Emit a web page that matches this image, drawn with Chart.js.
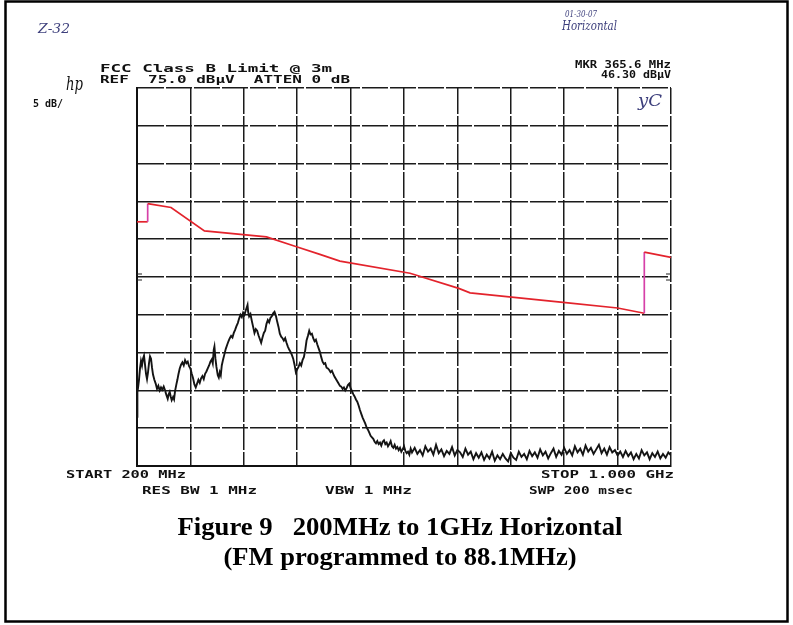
<!DOCTYPE html>
<html>
<head>
<meta charset="utf-8">
<script src="https://cdn.jsdelivr.net/npm/chart.js@4.4.1/dist/chart.umd.min.js"></script>
<style>
  html, body { margin: 0; padding: 0; background: #fff; }
  #wrap { position: relative; width: 793px; height: 625px; }
</style>
</head>
<body>
<div id="wrap"><canvas id="chart" width="793" height="625"></canvas></div>
<script>
// sweep settings (MHz / dBuV)
const startMHz = 200;
const stopMHz = 1000;
const mhzPerDiv = 80;
const refLevel = 75;
const dbPerDiv = 5;
const divisions = 10;

// FCC class B limit @ 3m as drawn (red)
const limitFreq = [200, 216, 216, 251, 301, 394, 439, 474, 504, 609, 682, 699, 842, 920, 960, 960, 1000];
const limitLevel = [57.3, 57.3, 59.7, 59.2, 56.1, 55.3, 54.0, 53.0, 52.1, 50.5, 48.5, 47.9, 46.6, 45.9, 45.2, 53.3, 52.6];

// reference level marks on both edges
const refMarkLevel = [50.4, 49.6];

// measured trace (black)
const traceFreq = [
  200.0, 200.6, 201.5, 203.0, 204.5, 206.0, 207.5, 209.0, 210.5, 212.0, 213.5, 215.0, 216.5, 218.0, 219.5, 221.0,
  222.5, 224.0, 226.0, 228.0, 230.0, 232.0, 234.0, 236.0, 238.0, 240.0, 242.0, 244.0, 246.0, 247.5, 249.0, 250.5,
  252.0, 254.0, 255.5, 257.0, 259.0, 260.5, 262.0, 264.0, 266.0, 268.0, 270.0, 272.0, 274.0, 276.0, 278.0, 280.0,
  282.0, 284.0, 286.0, 288.0, 290.0, 292.0, 294.0, 296.0, 298.0, 300.0, 302.0, 304.0, 306.0, 308.0, 310.0, 312.0,
  313.5, 315.0, 316.0, 317.5, 319.0, 321.0, 322.5, 324.0, 325.5, 327.0, 329.0, 331.0, 333.0, 335.0, 337.0, 339.0,
  341.0, 343.0, 345.0, 347.0, 349.0, 351.0, 353.0, 355.0, 357.0, 359.0, 361.0, 363.0, 364.5, 365.6, 366.5, 368.0,
  370.0, 372.0, 374.0, 376.0, 378.0, 380.0, 382.0, 384.0, 386.0, 388.0, 390.0, 392.0, 394.0, 396.0, 398.0, 400.0,
  402.0, 404.0, 406.0, 408.0, 410.0, 412.0, 414.0, 416.0, 418.0, 420.0, 422.0, 424.0, 426.0, 428.0, 430.0, 432.0,
  434.0, 436.0, 438.0, 440.0, 442.0, 444.0, 446.0, 448.0, 450.0, 452.0, 454.0, 456.0, 458.0, 460.0, 462.0, 464.0,
  466.0, 468.0, 470.0, 472.0, 474.0, 476.0, 478.0, 480.0, 482.0, 484.0, 486.0, 488.0, 490.0, 492.0, 494.0, 496.0,
  498.0, 500.0, 502.0, 504.0, 506.0, 508.0, 510.0, 512.0, 514.0, 516.0, 518.0, 520.0, 522.0, 524.0, 526.0, 528.0,
  530.0, 532.0, 534.0, 536.0, 538.0, 540.0, 542.0, 544.0, 546.0, 548.0, 550.0, 552.0, 554.0, 556.0, 558.0, 560.0,
  562.0, 564.0, 566.0, 568.0, 570.0, 572.0, 574.0, 576.0, 578.0, 580.0, 582.0, 584.0, 586.0, 588.0, 590.0, 592.0,
  594.0, 596.0, 598.0, 600.0, 602.0, 604.0, 606.0, 608.0, 610.0,
  612, 616, 620, 624, 628, 632, 636, 640, 644, 648, 652, 656, 660, 664, 668, 672, 676, 680, 684, 688,
  692, 696, 700, 704, 708, 712, 716, 720, 724, 728, 732, 736, 740, 744, 748, 752, 756, 760, 764, 768,
  772, 776, 780, 784, 788, 792, 796, 800, 804, 808, 812, 816, 820, 824, 828, 832, 836, 840, 844, 848,
  852, 856, 860, 864, 868, 872, 876, 880, 884, 888, 892, 896, 900, 904, 908, 912, 916, 920, 924, 928,
  932, 936, 940, 944, 948, 952, 956, 960, 964, 968, 972, 976, 980, 984, 988, 992, 996, 1000
];
const traceLevel = [
  31.5, 34.8, 35.3, 36.4, 37.9, 38.9, 38.3, 39.2, 39.6, 38.4, 37.2, 36.5, 37.4, 38.6, 39.5, 39.2,
  38.0, 37.1, 36.4, 35.9, 35.2, 35.6, 35.0, 35.4, 35.1, 35.5, 35.0, 34.4, 33.9, 34.5, 34.8, 34.2,
  33.7, 34.1, 33.8, 34.9, 35.8, 36.4, 37.1, 37.9, 38.4, 38.7, 38.3, 39.0, 38.6, 38.8, 38.2, 37.9,
  37.2, 36.6, 35.8, 35.4, 35.9, 36.4, 36.0, 36.6, 36.9, 36.5, 37.2, 37.5, 37.9, 38.3, 38.8, 39.1,
  38.6, 40.4, 40.8, 39.2, 38.1, 37.0, 36.7, 37.4, 37.0, 38.3, 39.1, 39.8, 40.5, 41.0, 41.5, 41.9,
  42.2, 42.0, 42.6, 43.0, 43.5, 43.9, 44.5, 45.0, 44.7, 45.3, 45.0, 45.6, 46.0, 46.3, 45.4, 44.8,
  45.1, 44.2, 43.4, 42.6, 43.1, 42.9, 42.3, 41.8, 41.3, 42.0, 42.6, 42.9, 43.8, 44.3, 44.0, 44.6,
  44.8, 45.2, 45.4, 44.9, 44.1, 43.4, 42.5, 42.1, 41.9, 41.6, 41.9, 41.3, 40.8, 40.4, 40.1, 39.7,
  39.2, 38.4, 37.4, 37.8, 38.1, 38.6, 38.3, 39.0, 39.4, 40.3, 41.6, 42.2, 42.9, 42.4, 42.5, 41.9,
  41.5, 41.7, 41.1, 40.6, 40.1, 39.4, 38.8, 38.5, 38.6, 38.0, 37.9, 37.7, 37.4, 37.6, 37.2, 36.8,
  36.5, 36.2, 35.9, 35.6, 35.5, 35.2, 35.4, 35.0, 35.3, 35.7, 35.9, 35.3, 34.9, 34.5, 34.2, 33.8,
  33.5, 33.0, 32.4, 31.9, 31.4, 31.0, 30.6, 30.1, 29.8, 29.4, 29.0, 28.8, 28.6, 28.2, 28.0, 28.3,
  27.9, 28.1, 27.7, 28.2, 28.4, 27.9, 28.1, 27.6, 27.9, 28.3, 27.6, 27.4, 27.8, 27.3, 27.5, 27.1,
  27.4, 26.9, 27.2, 27.6, 27.0, 26.7, 26.9, 26.5, 27.3,
  26.8, 27.4, 26.6, 27.1, 26.4, 27.6, 26.9, 27.3, 26.5, 27.8, 26.7, 27.2, 26.3, 27.0, 26.6, 27.5, 26.4, 27.1, 26.8, 26.2,
  27.3, 26.5, 26.9, 25.9, 26.7, 26.1, 26.8, 25.8, 26.5, 26.0, 26.9, 25.7, 26.4, 25.9, 26.6, 26.0, 25.6, 26.7, 26.1, 25.8,
  26.9, 26.2, 26.6, 25.9, 27.0, 26.3, 26.8, 26.1, 27.2, 26.4, 26.9, 26.0, 26.7, 27.3, 26.2, 27.0, 26.5, 27.4, 26.6, 27.1,
  26.4, 27.6, 26.8, 27.3, 26.5, 27.7, 26.9, 27.4, 26.6, 27.2, 27.8, 26.7, 27.3, 26.5, 27.5, 26.8, 27.1, 26.4, 26.9, 26.2,
  27.0, 26.3, 26.8, 25.9, 26.6, 26.0, 27.1, 26.4, 26.8, 25.9, 26.7, 26.2, 26.9, 26.0, 26.6, 26.1, 26.8, 26.4
];

// printed annotations
const headerLeft = ['FCC Class B Limit @ 3m', 'REF  75.0 dB\u00b5V  ATTEN 0 dB'];
const headerRight = ['MKR 365.6 MHz', '46.30 dB\u00b5V'];
const scaleNote = '5 dB/';
const footerLeft = 'START 200 MHz';
const footerRight = 'STOP 1.000 GHz';
const footerRow = ['RES BW 1 MHz', 'VBW 1 MHz', 'SWP 200 msec'];
const handNotes = ['Z-32', '01-30-07', 'Horizontal', 'yC'];
const captionLines = ['Figure 9   200MHz to 1GHz Horizontal', '(FM programmed to 88.1MHz)'];

const toPoints = (xs, ys) => xs.map((x, i) => ({ x: x, y: ys[i] }));

// draw text squeezed or stretched to a given width
function fitText(ctx, text, x, y, width, font, align, color) {
  ctx.save();
  ctx.font = font;
  ctx.fillStyle = color || '#111';
  ctx.textBaseline = 'alphabetic';
  const w = ctx.measureText(text).width;
  const sx = width ? width / w : 1;
  let left = x;
  if (align === 'right') left = x - w * sx;
  if (align === 'center') left = x - w * sx / 2;
  ctx.translate(left, y);
  ctx.scale(sx, 1);
  ctx.fillText(text, 0, 0);
  ctx.restore();
}

const mono = 'bold 10px "DejaVu Sans Mono"';
const hand = 'italic 13px "DejaVu Serif"';
const ink = '#3d3f7c';

const pagePlugin = {
  id: 'page',
  beforeDraw(chart) {
    const ctx = chart.ctx;
    ctx.save();
    ctx.fillStyle = '#fff';
    ctx.fillRect(0, 0, chart.width, chart.height);
    ctx.strokeStyle = '#000';
    ctx.lineWidth = 2.5;
    ctx.strokeRect(5.5, 1.5, 782, 620);
    ctx.restore();
  },
  afterDraw(chart) {
    const ctx = chart.ctx;
    const area = chart.chartArea;
    const ys = chart.scales.y;
    // small "=" marks at the edges
    ctx.save();
    ctx.strokeStyle = '#222';
    ctx.lineWidth = 1.2;
    refMarkLevel.forEach(v => {
      const py = ys.getPixelForValue(v);
      ctx.beginPath();
      ctx.moveTo(area.left, py); ctx.lineTo(area.left + 5, py);
      ctx.moveTo(area.right - 5, py); ctx.lineTo(area.right, py);
      ctx.stroke();
    });
    ctx.restore();

    fitText(ctx, headerLeft[0], 100, 72, 232, mono);
    fitText(ctx, headerLeft[1], 100, 83, 250, mono);
    fitText(ctx, headerRight[0], 671, 68, 96, mono, 'right');
    fitText(ctx, headerRight[1], 671, 78, 70, mono, 'right');
    fitText(ctx, scaleNote, 33, 107, 30, mono);
    fitText(ctx, 'hp', 66, 90, 17, 'italic 19px "DejaVu Serif"');
    fitText(ctx, footerLeft, 66, 478, 120, mono);
    fitText(ctx, footerRight, 674, 478, 133, mono, 'right');
    fitText(ctx, footerRow[0], 142, 494, 115, mono);
    fitText(ctx, footerRow[1], 325, 494, 87, mono);
    fitText(ctx, footerRow[2], 529, 494, 104, mono);
    fitText(ctx, handNotes[0], 38, 33, 32, hand, null, ink);
    fitText(ctx, handNotes[1], 565, 17, 32, 'italic 10px "DejaVu Serif"', null, ink);
    fitText(ctx, handNotes[2], 562, 30, 55, hand, null, ink);
    fitText(ctx, handNotes[3], 638, 106, 24, 'italic 17px "DejaVu Serif"', null, ink);
    fitText(ctx, captionLines[0], 400, 535, 445, 'bold 26px "Liberation Serif"', 'center', '#000');
    fitText(ctx, captionLines[1], 400, 565, 353, 'bold 26px "Liberation Serif"', 'center', '#000');
  }
};

const gridStyle = { color: '#1b1b1b', lineWidth: 1.5, drawTicks: false };
const borderStyle = { display: true, color: '#111', width: 2, dash: [26, 2] };

new Chart(document.getElementById('chart').getContext('2d'), {
  type: 'scatter',
  data: {
    datasets: [
      {
        data: toPoints(limitFreq, limitLevel),
        showLine: true,
        borderColor: '#e3232c',
        borderWidth: 1.7,
        pointRadius: 0,
        tension: 0,
        segment: {
          borderColor: c => (c.p0.parsed.x === c.p1.parsed.x ? '#d640a8' : undefined)
        }
      },
      {
        data: toPoints(traceFreq, traceLevel),
        showLine: true,
        borderColor: '#141414',
        borderWidth: 1.9,
        pointRadius: 0,
        tension: 0
      }
    ]
  },
  options: {
    responsive: false,
    animation: false,
    devicePixelRatio: 1,
    layout: { padding: { left: 137, top: 88, right: 122, bottom: 159 } },
    plugins: { legend: { display: false }, tooltip: { enabled: false } },
    scales: {
      x: {
        type: 'linear',
        min: startMHz,
        max: stopMHz,
        ticks: { display: false, stepSize: mhzPerDiv, autoSkip: false },
        grid: gridStyle,
        border: borderStyle
      },
      y: {
        type: 'linear',
        min: refLevel - dbPerDiv * divisions,
        max: refLevel,
        ticks: { display: false, stepSize: dbPerDiv },
        grid: gridStyle,
        border: borderStyle
      }
    }
  },
  plugins: [pagePlugin]
});
</script>
</body>
</html>
